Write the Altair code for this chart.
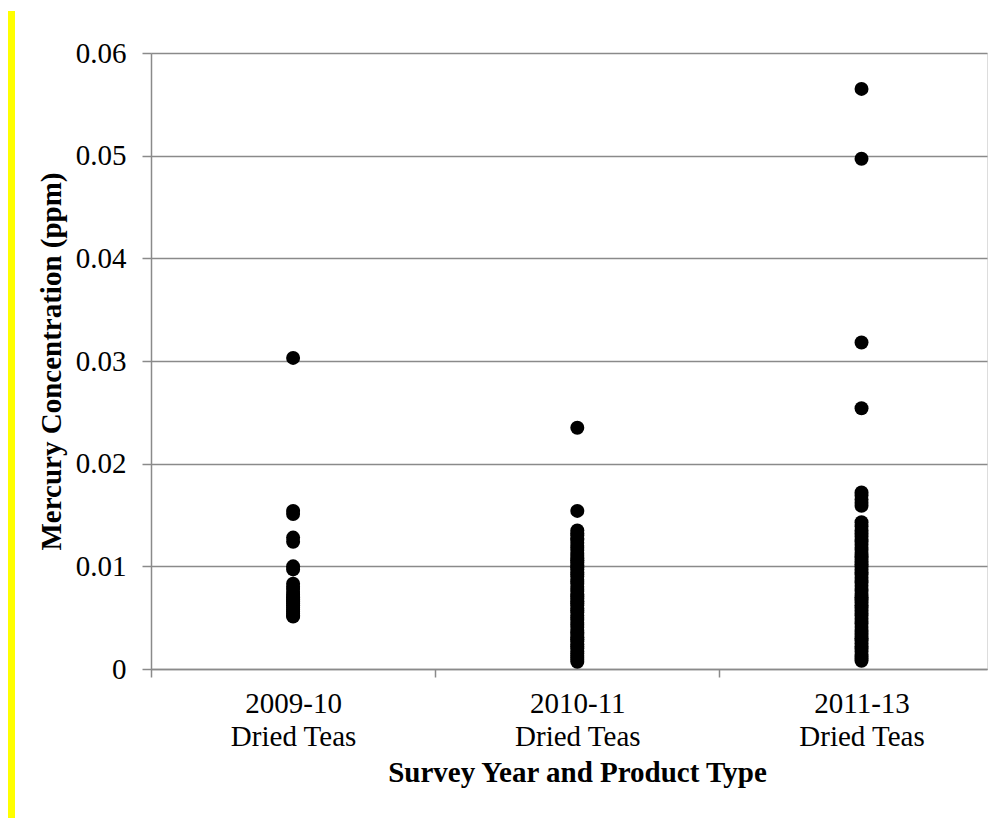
import json
import altair as alt
import pandas as pd

# ---- data ----
categories = ["2009-10", "2010-11", "2011-13"]
product_type = "Dried Teas"

teas_2009_10 = [0.0303, 0.0154, 0.0151, 0.0128, 0.0124, 0.0100, 0.0097,
                0.0083, 0.0080, 0.0078, 0.0075, 0.0072, 0.0070, 0.0068,
                0.0066, 0.0064, 0.0062, 0.0060, 0.0058, 0.0056, 0.0054,
                0.0052, 0.0051]

teas_2010_11 = [0.0235, 0.0154, 0.0135, 0.0132, 0.0130, 0.0127, 0.0126,
                0.0123, 0.0120, 0.0118, 0.0116, 0.0113, 0.0111, 0.0108,
                0.0106, 0.0104, 0.0101, 0.0099, 0.0097, 0.0094, 0.0092,
                0.0090, 0.0087, 0.0085, 0.0083, 0.0080, 0.0078, 0.0076,
                0.0073, 0.0071, 0.0069, 0.0066, 0.0064, 0.0062, 0.0059,
                0.0057, 0.0055, 0.0052, 0.0050, 0.0048, 0.0045, 0.0043,
                0.0041, 0.0038, 0.0036, 0.0034, 0.0031, 0.0029, 0.0027,
                0.0024, 0.0022, 0.0020, 0.0017, 0.0015, 0.0013, 0.0011,
                0.0009, 0.0007]

teas_2011_13 = [0.0565, 0.0497, 0.0318, 0.0254, 0.0172, 0.0169, 0.0165,
                0.0162, 0.0159, 0.0143, 0.0139, 0.0135, 0.0132, 0.0129,
                0.0126, 0.0124, 0.0121, 0.0118, 0.0116, 0.0113, 0.0110,
                0.0108, 0.0105, 0.0102, 0.0100, 0.0097, 0.0094, 0.0092,
                0.0089, 0.0086, 0.0084, 0.0081, 0.0078, 0.0076, 0.0073,
                0.0070, 0.0068, 0.0065, 0.0062, 0.0060, 0.0057, 0.0054,
                0.0052, 0.0049, 0.0046, 0.0044, 0.0041, 0.0038, 0.0036,
                0.0033, 0.0030, 0.0028, 0.0025, 0.0022, 0.0020, 0.0017,
                0.0014, 0.0012, 0.0010, 0.0008]

y_ticks = [0, 0.01, 0.02, 0.03, 0.04, 0.05, 0.06]
x_ticks = [-0.5, 0, 0.5, 1, 1.5, 2]   # band edges and category centres

rows = []
for i, vals in enumerate([teas_2009_10, teas_2010_11, teas_2011_13]):
    for v in vals:
        rows.append({"cat": i, "hg": v})
df = pd.DataFrame(rows)

label_arr = json.dumps([[c, product_type] for c in categories])
x_label_expr = f"datum.value % 1 == 0 ? {label_arr}[datum.value] : ''"

FONT = "Liberation Serif"
GREY = "#8a8a8a"

points = alt.Chart(df).mark_circle(size=195, color="black", opacity=1).encode(
    x=alt.X(
        "cat:Q",
        scale=alt.Scale(domain=[-0.5, 2.4415], nice=False, zero=False),
        axis=alt.Axis(
            values=x_ticks,
            labelExpr=x_label_expr,
            grid=False,
            domainColor=GREY,
            domainWidth=1.5,
            tickColor=GREY,
            tickWidth=1.5,
            tickSize=8,
            tickOpacity={"condition": {"test": "datum.value % 1 == 0", "value": 0}, "value": 1},
            labelFont=FONT,
            labelFontSize=29,
            labelColor="black",
            labelBaseline="top",
            labelPadding=12,
            labelLineHeight=33,
            labelFlush=False,
            labelOverlap=False,
            labelBound=False,
            title="Survey Year and Product Type",
            titleFont=FONT,
            titleFontSize=29,
            titleFontWeight="bold",
            titleColor="black",
            titleX=426,
            titleY=112,
            titleBaseline="alphabetic",
        ),
    ),
    y=alt.Y(
        "hg:Q",
        scale=alt.Scale(domain=[0, 0.06], nice=False),
        axis=alt.Axis(
            values=y_ticks,
            format=".2~f",
            grid=True,
            gridColor=GREY,
            gridWidth=1.5,
            domainColor=GREY,
            domainWidth=1.5,
            tickColor=GREY,
            tickWidth=1.5,
            tickSize=9,
            labelFont=FONT,
            labelFontSize=29,
            labelColor="black",
            labelPadding=16,
            labelBaseline="middle",
            labelOverlap=False,
            labelFlush=False,
            title="Mercury Concentration (ppm)",
            titleFont=FONT,
            titleFontSize=29,
            titleFontWeight="bold",
            titleColor="black",
            titleX=-91,
            titleY=308,
            titleBaseline="alphabetic",
        ),
    ),
)

# decorative yellow margin bar seen at the left of the reference
yellow_bar = alt.Chart(pd.DataFrame({"a": [0]})).mark_rule(
    color="#ffff00", strokeWidth=8, clip=False
).encode(x=alt.value(-140), y=alt.value(-42), y2=alt.value(779))

chart = alt.layer(yellow_bar, points).properties(
    width=836,
    height=616,
    padding={"left": 143, "top": 45, "right": 1, "bottom": 149},
    autosize=alt.AutoSizeParams(type="none"),
).configure_view(stroke=None).configure(background="white")

chart.save("out.html", embed_options={"renderer": "svg", "actions": False})
